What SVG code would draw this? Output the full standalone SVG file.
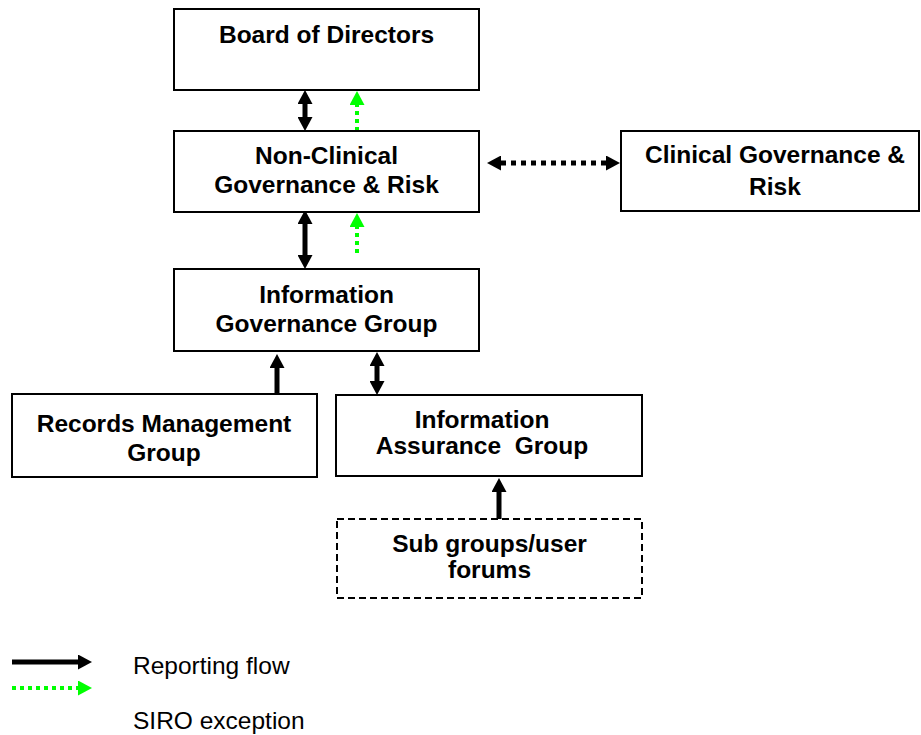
<svg xmlns="http://www.w3.org/2000/svg" width="921" height="735" viewBox="0 0 921 735">
<style>
.box{fill:#fff;stroke:#000;stroke-width:2}
.dbox{fill:#fff;stroke:#000;stroke-width:2;stroke-dasharray:7 4}
.t{font-family:"Liberation Sans",Arial,sans-serif;font-weight:bold;font-size:24.5px;fill:#000;text-anchor:middle;white-space:pre}
.r{font-family:"Liberation Sans",Arial,sans-serif;font-size:24.5px;fill:#000}
.blk{stroke:#000;stroke-width:5;fill:none}
.blkd{stroke:#000;stroke-width:5;fill:none;stroke-dasharray:5 5}
.grn{stroke:#00ff00;stroke-width:4;fill:none;stroke-dasharray:4 4}
</style>
<defs>
<marker id="hb" markerUnits="userSpaceOnUse" viewBox="0 0 14 15" markerWidth="14" markerHeight="15" refX="0" refY="7.5" orient="auto-start-reverse">
<path d="M0,0 L14,7.5 L0,15 z" fill="#000"/>
</marker>
<marker id="hg" markerUnits="userSpaceOnUse" viewBox="0 0 14 15" markerWidth="14" markerHeight="15" refX="0" refY="7.5" orient="auto-start-reverse">
<path d="M0,0 L14,7.5 L0,15 z" fill="#00ff00"/>
</marker>
</defs>
<rect width="921" height="735" fill="#fff"/>
<g id="connectors">
<line class="blk" x1="305" y1="104" x2="305" y2="117" marker-start="url(#hb)" marker-end="url(#hb)"/>
<line class="grn" x1="357" y1="131" x2="357" y2="105" marker-end="url(#hg)"/>
<line class="blk" x1="305" y1="224" x2="305" y2="255" marker-start="url(#hb)" marker-end="url(#hb)"/>
<line class="grn" x1="357" y1="253" x2="357" y2="227" marker-end="url(#hg)"/>
<line class="blkd" x1="501" y1="163" x2="606" y2="163" marker-start="url(#hb)" marker-end="url(#hb)"/>
<line class="blk" x1="277" y1="394" x2="277" y2="368" marker-end="url(#hb)"/>
<line class="blk" x1="377" y1="366" x2="377" y2="381" marker-start="url(#hb)" marker-end="url(#hb)"/>
<line class="blk" x1="499" y1="519" x2="499" y2="492" marker-end="url(#hb)"/>
</g>
<g id="board">
<rect class="box" x="174" y="9" width="305" height="81"/>
<text class="t" x="326.5" y="43">Board of Directors</text>
</g>
<g id="nonclinical">
<rect class="box" x="174" y="131" width="305" height="81"/>
<text class="t" x="326.5" y="164">Non-Clinical</text>
<text class="t" x="326.5" y="193">Governance &amp; Risk</text>
</g>
<g id="clinical">
<rect class="box" x="621" y="131" width="298" height="80"/>
<text class="t" x="775" y="162.5">Clinical Governance &amp;</text>
<text class="t" x="775" y="194.5">Risk</text>
</g>
<g id="infogov">
<rect class="box" x="174" y="269" width="305" height="82"/>
<text class="t" x="326.5" y="302.5">Information</text>
<text class="t" x="326.5" y="331.5">Governance Group</text>
</g>
<g id="records">
<rect class="box" x="12" y="394" width="305" height="83"/>
<text class="t" x="164" y="431.5">Records Management</text>
<text class="t" x="164" y="461">Group</text>
</g>
<g id="assurance">
<rect class="box" x="336" y="395" width="306" height="81"/>
<text class="t" x="482" y="427.5">Information</text>
<text class="t" x="482" y="454">Assurance  Group</text>
</g>
<g id="subgroups">
<rect class="dbox" x="337" y="519" width="305" height="79"/>
<text class="t" x="489.5" y="551.5">Sub groups/user</text>
<text class="t" x="489.5" y="578">forums</text>
</g>
<g id="legend">
<line class="blk" x1="12" y1="662" x2="78" y2="662" marker-end="url(#hb)"/>
<line class="grn" x1="12" y1="688" x2="78" y2="688" marker-end="url(#hg)"/>
<text class="r" x="133" y="674">Reporting flow</text>
<text class="r" x="133" y="729">SIRO exception</text>
</g>
</svg>
